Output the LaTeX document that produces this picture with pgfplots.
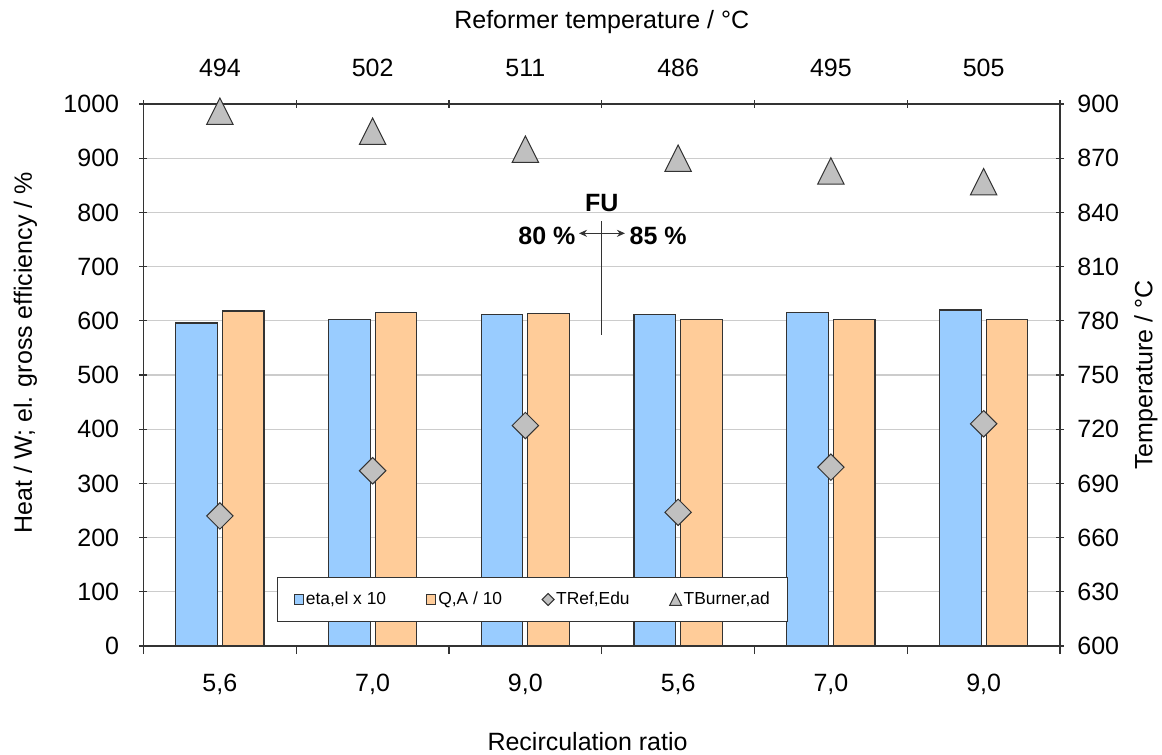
\documentclass[border=0pt]{standalone}
\usepackage{fontspec}
\setmainfont{Liberation Sans}
\usepackage{pgfplots}
\pgfplotsset{compat=1.18}
\usetikzlibrary{arrows.meta}
\definecolor{barblue}{HTML}{99CCFF}
\definecolor{barorange}{HTML}{FFCC99}
\definecolor{mgray}{HTML}{C0C0C0}
\definecolor{edge}{HTML}{333333}
\definecolor{gridc}{HTML}{CCCCCC}
\newcommand{\tf}{\fontsize{12.5}{15}\selectfont}
\pgfdeclareplotmark{xtri}{%
  \pgfpathmoveto{\pgfqpoint{0pt}{\pgfplotmarksize}}%
  \pgfpathlineto{\pgfqpoint{-\pgfplotmarksize}{-\pgfplotmarksize}}%
  \pgfpathlineto{\pgfqpoint{\pgfplotmarksize}{-\pgfplotmarksize}}%
  \pgfpathclose\pgfusepathqfillstroke}
\pgfdeclareplotmark{xdiam}{%
  \pgfpathmoveto{\pgfqpoint{0pt}{\pgfplotmarksize}}%
  \pgfpathlineto{\pgfqpoint{\pgfplotmarksize}{0pt}}%
  \pgfpathlineto{\pgfqpoint{0pt}{-\pgfplotmarksize}}%
  \pgfpathlineto{\pgfqpoint{-\pgfplotmarksize}{0pt}}%
  \pgfpathclose\pgfusepathqfillstroke}
\pgfplotsset{common/.style={
  width=458.25pt, height=271pt, scale only axis,
  xmin=0.5, xmax=6.5,
  tick align=outside, major tick length=4pt,
  tick style={draw=edge, line width=0.6pt},
  /pgf/number format/assume math mode=true,
  /pgf/number format/1000 sep={},
  xtick={0.5,1.5,2.5,3.5,4.5,5.5,6.5},
  xticklabels={,,,,,,},
  extra x ticks={1,2,3,4,5,6},
  extra x tick style={major tick length=0pt, grid=none},
  tick label style={font=\tf},
}}
\begin{document}
\begin{tikzpicture}
\begin{axis}[common, name=ax1,
  ymin=0, ymax=1000, ytick={0,100,...,1000},
  axis x line=bottom, axis y line=left,
  axis line style={-, draw=edge, line width=0.6pt},
  x axis line style={-}, y axis line style={-},
  every outer x axis line/.append style={-},
  every outer y axis line/.append style={-},
  ymajorgrids, grid style={draw=gridc, line width=0.6pt},
  extra x tick labels={{5,6},{7,0},{9,0},{5,6},{7,0},{9,0}},
  xticklabel style={anchor=base, yshift=-22.5pt},
  yticklabel style={anchor=east, inner sep=0pt, xshift=-10pt},
  ybar, bar width=20.8pt,
]
\addplot[fill=barblue, draw=edge, line width=0.6pt, bar shift=-11.65pt] coordinates {(1,596) (2,603) (3,611) (4,611) (5,616) (6,620)};
\addplot[fill=barorange, draw=edge, line width=0.6pt, bar shift=11.65pt] coordinates {(1,618) (2,615) (3,613) (4,603) (5,603) (6,603)};
\draw[edge, line width=0.6pt] (axis cs:3.5,574) -- (axis cs:3.5,785);
\draw[edge, line width=0.6pt, {Stealth[length=4pt,width=3.5pt]}-{Stealth[length=4pt,width=3.5pt]}] (axis cs:3.351,761.4) -- (axis cs:3.652,761.4);
\node[font=\tf\bfseries, inner sep=0pt] at (axis cs:3.5,817) {FU};
\node[font=\tf\bfseries, inner sep=0pt, anchor=east] at (axis cs:3.33,757) {80 \%};
\node[font=\tf\bfseries, inner sep=0pt, anchor=west] at (axis cs:3.68,757) {85 \%};
\end{axis}
\begin{axis}[common, name=ax2, clip=false,
  ymin=600, ymax=900, ytick={600,630,...,900},
  axis x line=top, axis y line=right,
  axis line style={-, draw=edge, line width=0.6pt},
  x axis line style={-}, y axis line style={-},
  every outer x axis line/.append style={-},
  every outer y axis line/.append style={-},
  extra x tick labels={494,502,511,486,495,505},
  xticklabel style={anchor=base, yshift=14pt},
  yticklabel style={anchor=west, inner sep=0pt, xshift=6.5pt},
  legend columns=4, legend cell align=left,
  legend style={at={(0.1457,0.0445)}, anchor=south west, draw=edge, line width=0.6pt, fill=white,
    font=\fontsize{8.7}{10}\selectfont, inner xsep=8pt, inner ysep=6pt,
    nodes={inner sep=1pt},
    /tikz/every even column/.append style={column sep=19pt},
    /tikz/every odd column/.append style={column sep=0pt}},
]
\addlegendimage{legend image code/.code={\draw[fill=barblue, draw=edge, line width=0.6pt] (0pt,-2.4pt) rectangle (4.5pt,2.4pt);}}
\addlegendentry{eta,el x 10}
\addlegendimage{legend image code/.code={\draw[fill=barorange, draw=edge, line width=0.6pt] (0pt,-2.4pt) rectangle (4.5pt,2.4pt);}}
\addlegendentry{Q,A / 10}
\addplot[only marks, mark=xdiam, mark size=6.6pt, mark options={fill=mgray, draw=edge, line width=0.5pt},
  legend image code/.code={\draw[mark=xdiam, mark size=3pt, mark options={fill=mgray, draw=edge, line width=0.5pt}] plot coordinates {(3pt,0pt)};}]
  coordinates {(1,672) (2,697) (3,722) (4,674) (5,699) (6,723)};
\addlegendentry{TRef,Edu}
\addplot[only marks, mark=xtri, mark size=6.6pt, mark options={fill=mgray, draw=edge, line width=0.5pt},
  legend image code/.code={\draw[mark=xtri, mark size=3pt, mark options={fill=mgray, draw=edge, line width=0.5pt}] plot coordinates {(3pt,0pt)};}]
  coordinates {(1,896) (2,885) (3,875) (4,870) (5,863) (6,857)};
\addlegendentry{TBurner,ad}
\end{axis}
\node[font=\tf, rotate=90] at ([xshift=-59pt, yshift=11.1pt]ax1.west) {Heat / W; el. gross efficiency / \%};
\node[font=\tf, rotate=90] at ([xshift=43pt]ax1.east) {Temperature / °C};
\node[font=\tf] at ([xshift=-7.1pt, yshift=-47.85pt]ax1.south) {Recirculation ratio};
\node[font=\tf] at ([yshift=41pt]ax1.north) {Reformer temperature / °C};
\pgfresetboundingbox
\path[use as bounding box] ([shift={(-71.75pt,-54.5pt)}]ax1.south west) rectangle ([shift={(51pt,52pt)}]ax1.north east);
\end{tikzpicture}
\end{document}
